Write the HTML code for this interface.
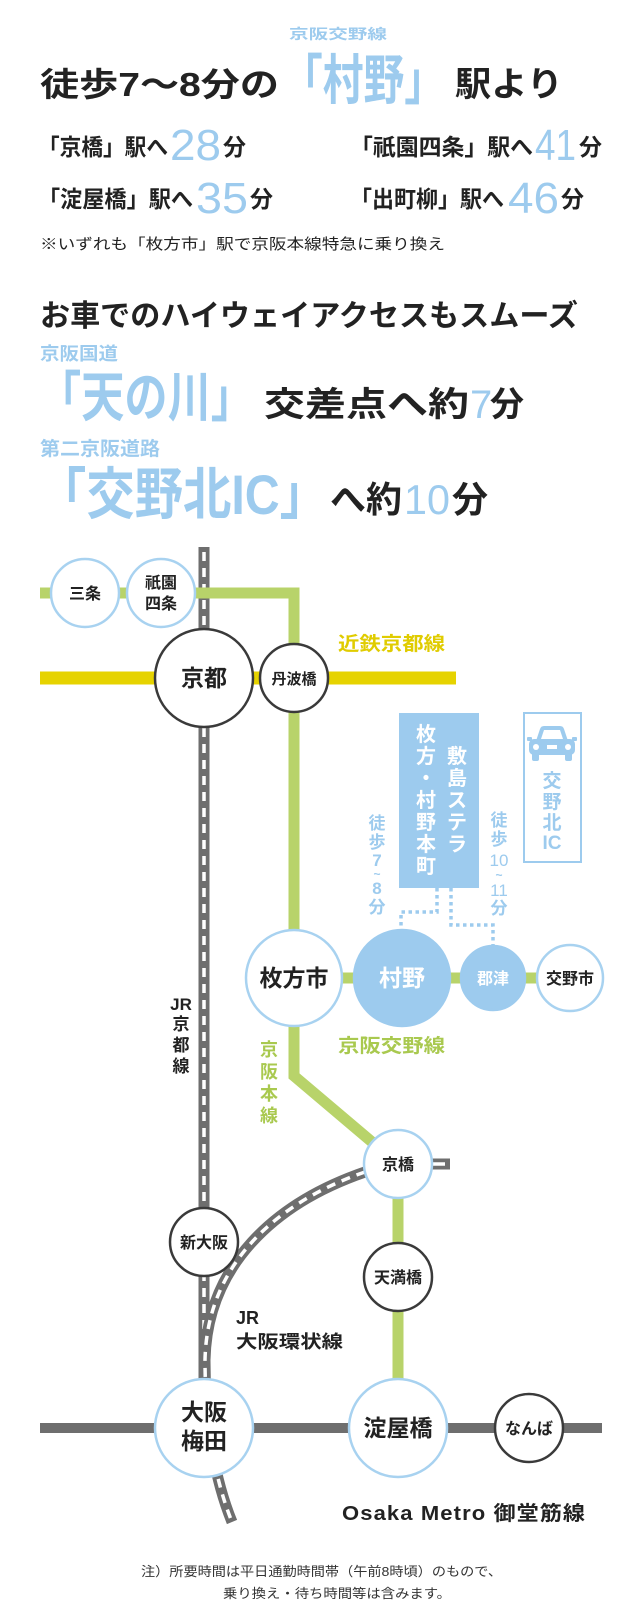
<!DOCTYPE html>
<html><head><meta charset="utf-8"><style>
html,body{margin:0;padding:0;background:#fff;}
svg{display:block;font-family:"Liberation Sans","Noto Sans CJK JP",sans-serif;}
.k{fill:#222;font-weight:700;}
.b{fill:#9dcbee;font-weight:700;}
.n{fill:#9dcbee;font-weight:400;}
.g{fill:#a9c94f;font-weight:700;}
.c{text-anchor:middle;font-weight:700;}
</style></head><body>
<svg width="640" height="1610" viewBox="0 0 640 1610" xmlns="http://www.w3.org/2000/svg">
<!-- HEADER -->
<text class="b" x="289" y="39" font-size="14" textLength="98" lengthAdjust="spacingAndGlyphs">京阪交野線</text>
<text class="k" x="40" y="96" font-size="33" textLength="239" lengthAdjust="spacingAndGlyphs">徒歩7〜8分の</text>
<text class="b" x="282" y="99" font-size="54" textLength="163" lengthAdjust="spacingAndGlyphs">「村野」</text>
<text class="k" x="455" y="96" font-size="34" textLength="108" lengthAdjust="spacingAndGlyphs">駅より</text>

<text class="k" x="38" y="155" font-size="23" textLength="130" lengthAdjust="spacingAndGlyphs">「京橋」駅へ</text>
<text class="n" x="170" y="160" font-size="44" textLength="51" lengthAdjust="spacingAndGlyphs">28</text>
<text class="k" x="223" y="155" font-size="23">分</text>
<text class="k" x="350" y="155" font-size="23" textLength="183" lengthAdjust="spacingAndGlyphs">「祇園四条」駅へ</text>
<text class="n" x="535" y="160" font-size="44" textLength="41" lengthAdjust="spacingAndGlyphs">41</text>
<text class="k" x="579" y="155" font-size="23">分</text>

<text class="k" x="38" y="207" font-size="23" textLength="155" lengthAdjust="spacingAndGlyphs">「淀屋橋」駅へ</text>
<text class="n" x="196" y="213" font-size="44" textLength="52" lengthAdjust="spacingAndGlyphs">35</text>
<text class="k" x="250" y="207" font-size="23">分</text>
<text class="k" x="350" y="207" font-size="23" textLength="154" lengthAdjust="spacingAndGlyphs">「出町柳」駅へ</text>
<text class="n" x="508" y="213" font-size="44" textLength="51" lengthAdjust="spacingAndGlyphs">46</text>
<text class="k" x="561" y="207" font-size="23">分</text>

<text x="40" y="249" font-size="15" fill="#222" textLength="405" lengthAdjust="spacingAndGlyphs">※いずれも「枚方市」駅で京阪本線特急に乗り換え</text>

<text class="k" x="40" y="326" font-size="30" textLength="538" lengthAdjust="spacingAndGlyphs">お車でのハイウェイアクセスもスムーズ</text>
<text class="b" x="40" y="360" font-size="18" textLength="78" lengthAdjust="spacingAndGlyphs">京阪国道</text>
<text class="b" x="38" y="416" font-size="54" textLength="216" lengthAdjust="spacingAndGlyphs">「天の川」</text>
<text class="k" x="264" y="416" font-size="34" textLength="205" lengthAdjust="spacingAndGlyphs">交差点へ約</text>
<text class="n" x="470" y="418" font-size="40">7</text>
<text class="k" x="490" y="416" font-size="34">分</text>
<text class="b" x="40" y="455" font-size="19" textLength="120" lengthAdjust="spacingAndGlyphs">第二京阪道路</text>
<text class="b" x="38" y="514" font-size="56" textLength="290" lengthAdjust="spacingAndGlyphs">「交野北IC」</text>
<text class="k" x="330" y="512" font-size="36" textLength="72" lengthAdjust="spacingAndGlyphs">へ約</text>
<text class="n" x="404" y="514" font-size="42" textLength="46" lengthAdjust="spacingAndGlyphs">10</text>
<text class="k" x="452" y="512" font-size="36">分</text>

<!-- MAP LINES -->
<g fill="none" stroke-linejoin="miter">
  <line x1="204" y1="547" x2="204" y2="1430" stroke="#6e6e6e" stroke-width="11"/>
  <line x1="204" y1="552" x2="204" y2="1430" stroke="#fff" stroke-width="3.5" stroke-dasharray="9 7"/>
  <path d="M365,1172 C275,1203 207,1265 205,1360 C205,1425 215,1480 232,1522" stroke="#6e6e6e" stroke-width="11"/>
  <path d="M365,1172 C275,1203 207,1265 205,1360 C205,1425 215,1480 232,1522" stroke="#fff" stroke-width="3.5" stroke-dasharray="9 7"/>
  <line x1="425" y1="1164" x2="450" y2="1164" stroke="#6e6e6e" stroke-width="11"/>
  <line x1="432" y1="1164" x2="445" y2="1164" stroke="#fff" stroke-width="3.5"/>
  <line x1="40" y1="1428" x2="602" y2="1428" stroke="#6e6e6e" stroke-width="10"/>
  <line x1="40" y1="678" x2="456" y2="678" stroke="#e6d300" stroke-width="13"/>
  <polyline points="40,593 294,593 294,1076 398,1164 398,1428" stroke="#b8d36a" stroke-width="11"/>
  <line x1="294" y1="978" x2="570" y2="978" stroke="#b8d36a" stroke-width="11"/>
  <polyline points="437,888 437,912 401,912 401,932" stroke="#9dcbee" stroke-width="3.5" stroke-dasharray="3.5 3.5"/>
  <polyline points="451,888 451,925 493,925 493,946" stroke="#9dcbee" stroke-width="3.5" stroke-dasharray="3.5 3.5"/>
</g>

<text x="338" y="650" font-size="19" fill="#e0cc00" font-weight="700" textLength="107" lengthAdjust="spacingAndGlyphs">近鉄京都線</text>
<text class="g" x="338" y="1052" font-size="19" textLength="107" lengthAdjust="spacingAndGlyphs">京阪交野線</text>
<g class="g" font-size="18" text-anchor="middle">
  <text x="269" y="1056">京</text><text x="269" y="1078">阪</text><text x="269" y="1100">本</text><text x="269" y="1122">線</text>
</g>
<g class="k" font-size="17" text-anchor="middle">
  <text x="181" y="1010" font-family="Liberation Sans">JR</text>
  <text x="181" y="1030">京</text><text x="181" y="1051">都</text><text x="181" y="1072">線</text>
</g>
<text class="k" x="236" y="1324" font-size="18" font-family="Liberation Sans">JR</text>
<text class="k" x="236" y="1348" font-size="18" textLength="107" lengthAdjust="spacingAndGlyphs">大阪環状線</text>
<text class="k" x="342" y="1520" font-size="20" textLength="244" lengthAdjust="spacingAndGlyphs" letter-spacing="1">Osaka Metro 御堂筋線</text>

<rect x="399" y="713" width="80" height="175" fill="#9dcbee"/>
<g fill="#fff" font-size="20" font-weight="700" text-anchor="middle">
  <text x="426" y="741">枚</text><text x="426" y="763">方</text><text x="426" y="785">・</text><text x="426" y="807">村</text><text x="426" y="829">野</text><text x="426" y="851">本</text><text x="426" y="873">町</text>
  <text x="457" y="763">敷</text><text x="457" y="785">島</text><text x="457" y="807">ス</text><text x="457" y="829">テ</text><text x="457" y="851">ラ</text>
</g>
<g class="b" font-size="17" text-anchor="middle">
  <text x="377" y="829">徒</text><text x="377" y="848">歩</text><text x="377" y="866" font-family="Liberation Sans">7</text><text x="377" y="878" font-size="12">~</text><text x="377" y="894" font-family="Liberation Sans">8</text><text x="377" y="913">分</text>
  <text x="499" y="826">徒</text><text x="499" y="845">歩</text><text x="499" y="866" font-family="Liberation Sans" font-weight="400">10</text><text x="499" y="879" font-size="12">~</text><text x="499" y="896" font-family="Liberation Sans" font-weight="400">11</text><text x="499" y="914">分</text>
</g>
<rect x="524" y="713" width="57" height="149" fill="none" stroke="#9dcbee" stroke-width="2"/>
<g fill="#9dcbee">
  <path d="M536,741 L540,729 Q541,726 544,726 L560,726 Q563,726 564,729 L568,741 Z"/>
  <rect x="529" y="739" width="46" height="16" rx="5"/>
  <rect x="532" y="752" width="7" height="9" rx="2"/>
  <rect x="565" y="752" width="7" height="9" rx="2"/>
  <rect x="527" y="737" width="5" height="4" rx="1"/>
  <rect x="572" y="737" width="5" height="4" rx="1"/>
</g>
<path d="M541,739 L544,730 L560,730 L563,739 Z" fill="#fff"/>
<circle cx="536" cy="747" r="3" fill="#fff"/><circle cx="568" cy="747" r="3" fill="#fff"/>
<rect x="547" y="745" width="10" height="4" fill="#fff"/>
<g class="b" font-size="19" text-anchor="middle">
  <text x="552" y="787">交</text><text x="552" y="808">野</text><text x="552" y="829">北</text><text x="552" y="849" font-family="Liberation Sans">IC</text>
</g>

<g stroke-width="2.5">
  <circle cx="85" cy="593" r="34" fill="#fff" stroke="#a8d2f0"/>
  <circle cx="161" cy="593" r="34" fill="#fff" stroke="#a8d2f0"/>
  <circle cx="204" cy="678" r="49" fill="#fff" stroke="#3a3a3a"/>
  <circle cx="294" cy="678" r="34" fill="#fff" stroke="#3a3a3a"/>
  <circle cx="294" cy="978" r="48" fill="#fff" stroke="#a8d2f0"/>
  <circle cx="402" cy="978" r="48" fill="#9dcbee" stroke="#9dcbee"/>
  <circle cx="493" cy="978" r="32" fill="#9dcbee" stroke="#9dcbee"/>
  <circle cx="570" cy="978" r="33" fill="#fff" stroke="#a8d2f0"/>
  <circle cx="398" cy="1164" r="34" fill="#fff" stroke="#a8d2f0"/>
  <circle cx="398" cy="1277" r="34" fill="#fff" stroke="#3a3a3a"/>
  <circle cx="204" cy="1242" r="34" fill="#fff" stroke="#3a3a3a"/>
  <circle cx="204" cy="1428" r="49" fill="#fff" stroke="#a8d2f0"/>
  <circle cx="398" cy="1428" r="49" fill="#fff" stroke="#a8d2f0"/>
  <circle cx="529" cy="1428" r="34" fill="#fff" stroke="#3a3a3a"/>
</g>
<g class="c" fill="#222">
  <text x="85" y="599" font-size="16">三条</text>
  <text x="161" y="588" font-size="16">祇園</text>
  <text x="161" y="609" font-size="16">四条</text>
  <text x="204" y="686" font-size="23">京都</text>
  <text x="294" y="684" font-size="15">丹波橋</text>
  <text x="294" y="986" font-size="23">枚方市</text>
  <text x="402" y="986" font-size="23" fill="#fff">村野</text>
  <text x="493" y="984" font-size="16" fill="#fff">郡津</text>
  <text x="570" y="984" font-size="16">交野市</text>
  <text x="398" y="1170" font-size="16">京橋</text>
  <text x="398" y="1283" font-size="16">天満橋</text>
  <text x="204" y="1248" font-size="16">新大阪</text>
  <text x="204" y="1420" font-size="23">大阪</text>
  <text x="204" y="1449" font-size="23">梅田</text>
  <text x="398" y="1436" font-size="23">淀屋橋</text>
  <text x="529" y="1434" font-size="16">なんば</text>
</g>
<text x="141" y="1576" font-size="13" fill="#333" textLength="361" lengthAdjust="spacingAndGlyphs">注）所要時間は平日通勤時間帯（午前8時頃）のもので、</text>
<text x="223" y="1598" font-size="13" fill="#333" textLength="228" lengthAdjust="spacingAndGlyphs">乗り換え・待ち時間等は含みます。</text>
</svg>
</body></html>
